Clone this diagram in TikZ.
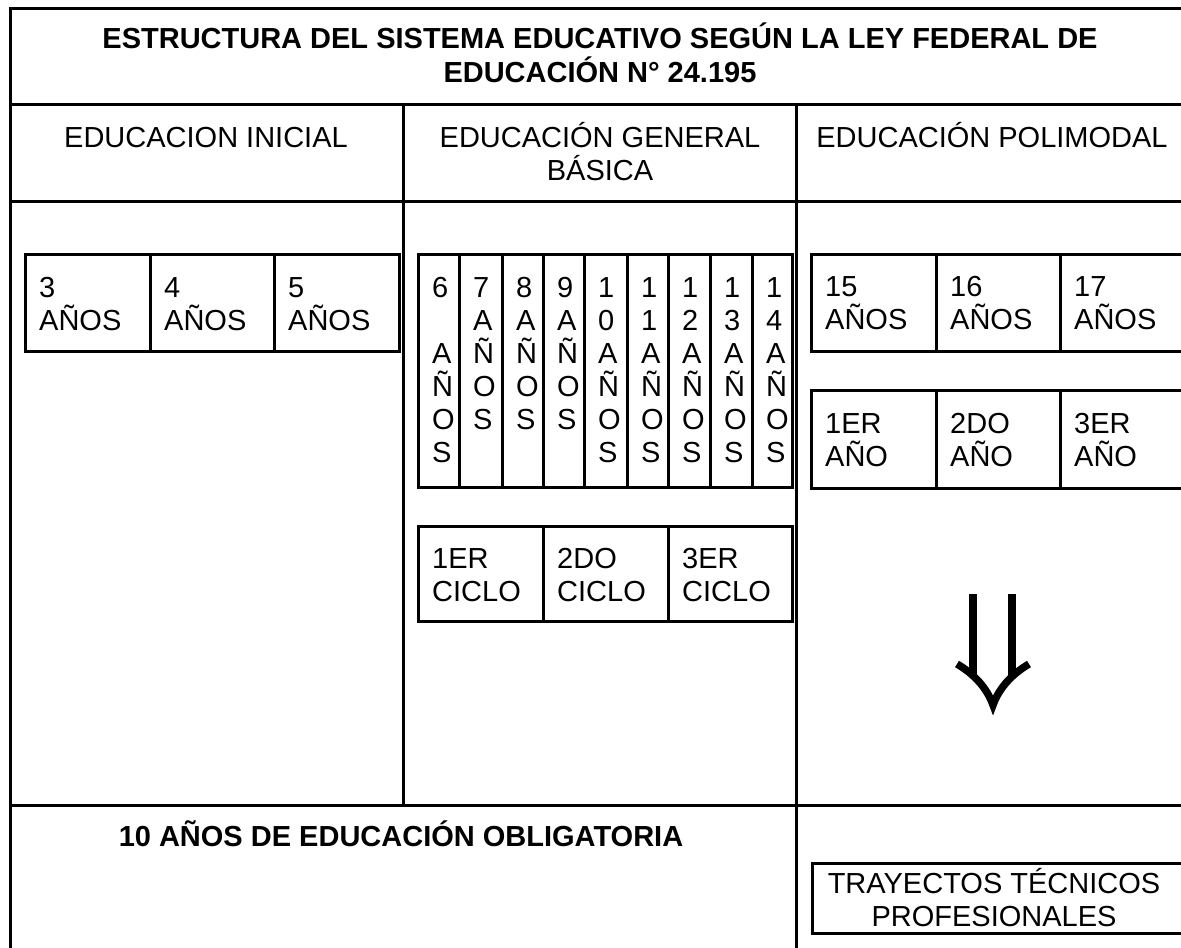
\documentclass[tikz,border=0pt]{standalone}
\usepackage{fontspec}
\setmainfont{Liberation Sans}
\newcommand\leftlines[1]{\vtop{\halign{##\hfil\cr #1\crcr}}}
\newcommand\centerlines[1]{\vtop{\halign{\hfil##\hfil\cr #1\crcr}}}
\tikzset{
  rule/.style={line width=3pt},
  txt/.style={inner sep=0pt, anchor=base west, font=\fontsize{29}{33}\selectfont},
  ctxt/.style={inner sep=0pt, anchor=base, font=\fontsize{29}{33}\selectfont},
  btxt/.style={inner sep=0pt, anchor=base, font=\fontsize{29}{34}\selectfont\bfseries},
  arrowstroke/.style={line width=7.5pt},
}
\begin{document}
\begin{tikzpicture}[x=1pt,y=-1pt]
\useasboundingbox (0,0) rectangle (1181,948);
\clip (0,0) rectangle (1181,948);
% table rules
\draw[rule] (1200,8) -- (10,8) -- (10,960);
\draw[rule] (10,104) -- (1200,104);
\draw[rule] (10,201) -- (1200,201);
\draw[rule] (10,805) -- (1200,805);
\draw[rule] (403,104) -- (403,805);
\draw[rule] (796,104) -- (796,960);
% title and headers
\node[btxt] (title) at (600,48) {\centerlines{ESTRUCTURA DEL SISTEMA EDUCATIVO SEGÚN LA LEY FEDERAL DE\cr EDUCACIÓN N° 24.195}};
\node[ctxt] (hini) at (206,147) {EDUCACION INICIAL};
\node[ctxt] (hegb) at (600,147) {\centerlines{EDUCACIÓN GENERAL\cr BÁSICA}};
\node[ctxt] (hpol) at (992,147) {EDUCACIÓN POLIMODAL};
% inicial boxes
\draw[rule] (25,254) rectangle (399,351);
\foreach \x in {150,274} \draw[rule] (\x,254) -- (\x,351);
\node[txt] (i3) at (39,297) {\leftlines{3\cr AÑOS}};
\node[txt] (i4) at (164,297) {\leftlines{4\cr AÑOS}};
\node[txt] (i5) at (288,297) {\leftlines{5\cr AÑOS}};
% EGB ages
\draw[rule] (418,254) rectangle (792,487);
\foreach \x in {459,502,543,584,627,668,710,752} \draw[rule] (\x,254) -- (\x,487);
\node[txt] (e6) at (432,297) {\leftlines{6\cr\cr A\cr Ñ\cr O\cr S}};
\node[txt] (e7) at (473,297) {\leftlines{7\cr A\cr Ñ\cr O\cr S}};
\node[txt] (e8) at (516,297) {\leftlines{8\cr A\cr Ñ\cr O\cr S}};
\node[txt] (e9) at (557,297) {\leftlines{9\cr A\cr Ñ\cr O\cr S}};
\node[txt] (e10) at (598,297) {\leftlines{1\cr 0\cr A\cr Ñ\cr O\cr S}};
\node[txt] (e11) at (641,297) {\leftlines{1\cr 1\cr A\cr Ñ\cr O\cr S}};
\node[txt] (e12) at (682,297) {\leftlines{1\cr 2\cr A\cr Ñ\cr O\cr S}};
\node[txt] (e13) at (724,297) {\leftlines{1\cr 3\cr A\cr Ñ\cr O\cr S}};
\node[txt] (e14) at (766,297) {\leftlines{1\cr 4\cr A\cr Ñ\cr O\cr S}};
% ciclos
\draw[rule] (418,526) rectangle (792,621);
\foreach \x in {543,668} \draw[rule] (\x,526) -- (\x,621);
\node[txt] (c1) at (432,568) {\leftlines{1ER\cr CICLO}};
\node[txt] (c2) at (557,568) {\leftlines{2DO\cr CICLO}};
\node[txt] (c3) at (682,568) {\leftlines{3ER\cr CICLO}};
% polimodal ages
\draw[rule] (811,254) rectangle (1186,351);
\foreach \x in {936,1060} \draw[rule] (\x,254) -- (\x,351);
\node[txt] (p15) at (825,296) {\leftlines{15\cr AÑOS}};
\node[txt] (p16) at (950,296) {\leftlines{16\cr AÑOS}};
\node[txt] (p17) at (1074,296) {\leftlines{17\cr AÑOS}};
% polimodal years
\draw[rule] (811,390) rectangle (1186,488);
\foreach \x in {936,1060} \draw[rule] (\x,390) -- (\x,488);
\node[txt] (y1) at (825,433) {\leftlines{1ER\cr AÑO}};
\node[txt] (y2) at (950,433) {\leftlines{2DO\cr AÑO}};
\node[txt] (y3) at (1074,433) {\leftlines{3ER\cr AÑO}};
% double arrow
\draw[arrowstroke] (973,594) -- (973,676);
\draw[arrowstroke] (1012,594) -- (1012,676);
\draw[arrowstroke, line join=miter] (957,664) .. controls (974,674) and (987,688) .. (993,705)
      .. controls (999,688) and (1012,674) .. (1029,664);
% bottom
\node[btxt] (oblig) at (401,846) {10 AÑOS DE EDUCACIÓN OBLIGATORIA};
\draw[rule] (812,863) rectangle (1190,933);
\node[ctxt] (tray) at (994,893) {\centerlines{TRAYECTOS TÉCNICOS\cr PROFESIONALES}};
\end{tikzpicture}
\end{document}
